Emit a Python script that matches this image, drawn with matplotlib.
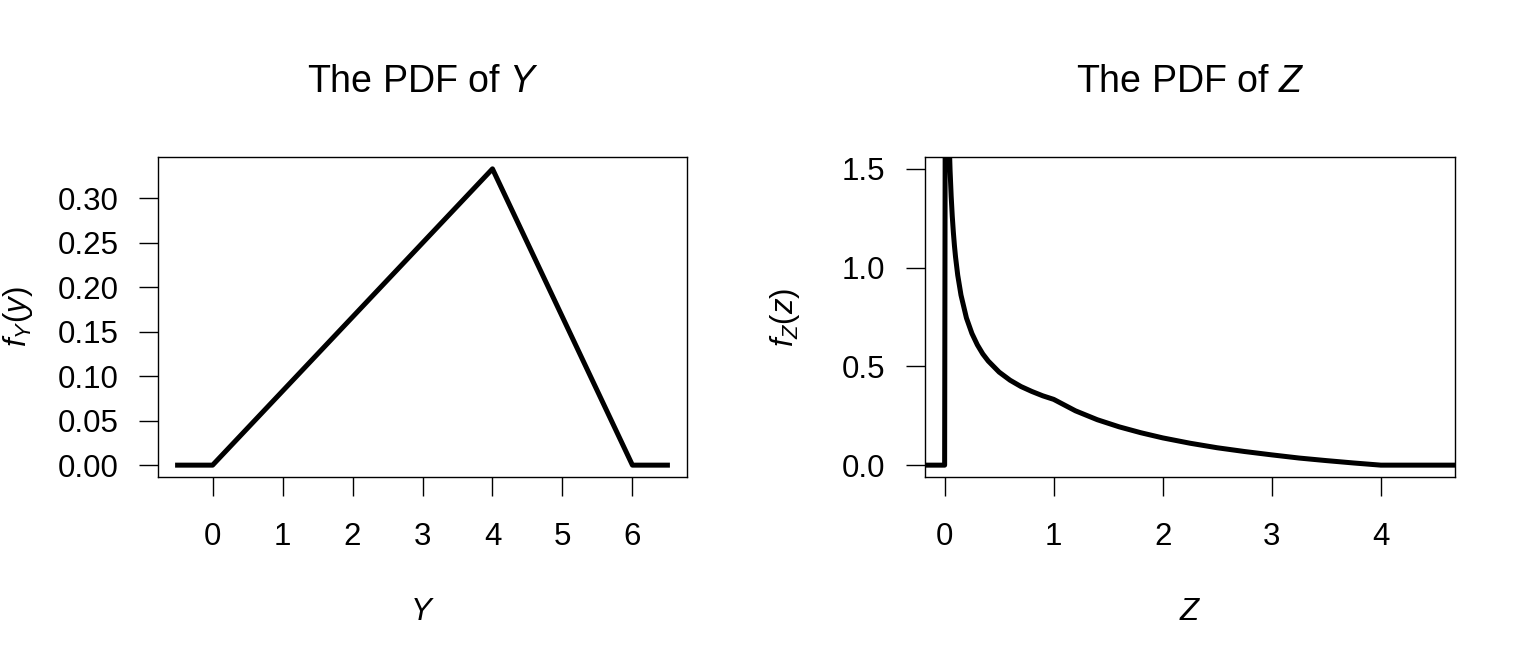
import matplotlib
matplotlib.use("Agg")
import matplotlib.pyplot as plt

plt.rcParams['font.family'] = ['Liberation Sans', 'DejaVu Sans']
plt.rcParams['mathtext.fontset'] = 'custom'
plt.rcParams['mathtext.rm'] = 'Liberation Sans'
plt.rcParams['mathtext.it'] = 'Liberation Sans:italic'

FS = 22.5
TFS = 27
LW = 3.6

# PDF of Y (triangle, piecewise linear)
y_vals = [-0.5, 0, 4, 6, 6.5]
fy_vals = [0, 0, 1/3, 0, 0]
y_ticks = [0, 1, 2, 3, 4, 5, 6]
fy_ticks = [0.00, 0.05, 0.10, 0.15, 0.20, 0.25, 0.30]
fy_ticklabels = ["0.00", "0.05", "0.10", "0.15", "0.20", "0.25", "0.30"]

# PDF of Z
z_vals = [-0.5, 0, 0.01, 0.015, 0.02, 0.025, 0.03, 0.035, 0.04, 0.05, 0.06, 0.07, 0.08, 0.09,
          0.10, 0.12, 0.15, 0.2, 0.25, 0.3, 0.35, 0.4, 0.5, 0.6, 0.7, 0.8, 0.9, 1.0,
          1.2, 1.4, 1.6, 1.8, 2.0, 2.25, 2.5, 2.75, 3.0, 3.25, 3.5, 3.75, 4.0,
          4.5, 5.0]
fz_vals = [0, 0, 3.333, 2.722, 2.357, 2.108, 1.925, 1.782, 1.667, 1.491, 1.361, 1.260, 1.179, 1.111,
           1.054, 0.962, 0.861, 0.745, 0.667, 0.609, 0.563, 0.527, 0.471, 0.430, 0.398, 0.373, 0.351, 0.333,
           0.275, 0.230, 0.194, 0.164, 0.138, 0.111, 0.088, 0.069, 0.052, 0.036, 0.023, 0.011, 0.0,
           0, 0]
z_ticks = [0, 1, 2, 3, 4]
fz_ticks = [0.0, 0.5, 1.0, 1.5]
fz_ticklabels = ["0.0", "0.5", "1.0", "1.5"]

fig = plt.figure(figsize=(15.36, 6.72), dpi=100)
ax1 = fig.add_axes([158/1536, 1 - 477/672, 529/1536, 320/672])
ax2 = fig.add_axes([925/1536, 1 - 477/672, 530/1536, 320/672])

def style(ax, xlim, ylim, xt, yt, ytl, title, xl, yl):
    ax.set_xlim(xlim[0] - 0.04*(xlim[1]-xlim[0]), xlim[1] + 0.04*(xlim[1]-xlim[0]))
    ax.set_ylim(ylim[0] - 0.04*(ylim[1]-ylim[0]), ylim[1] + 0.04*(ylim[1]-ylim[0]))
    ax.set_xticks(xt)
    ax.set_xticklabels([str(t) for t in xt])
    ax.set_yticks(yt)
    ax.set_yticklabels(ytl)
    ax.tick_params(direction='out', length=13.5, width=1, labelsize=FS, pad=15)
    ax.tick_params(axis='x', pad=19)
    for s in ax.spines.values():
        s.set_linewidth(1)
    ax.set_title(title, fontsize=TFS, pad=47)
    ax.set_xlabel(xl, fontsize=FS)
    ax.set_ylabel(yl, fontsize=FS)
    ax.xaxis.set_label_coords(0.5, -0.375)
    ax.yaxis.set_label_coords(-0.232, 0.5)

ax1.plot(y_vals, fy_vals, color='black', lw=LW, solid_joinstyle='round')
style(ax1, (-0.5, 6.5), (0, 1/3), y_ticks, fy_ticks, fy_ticklabels,
      "The PDF of $Y$", "$Y$", "$f_Y(y)$")

ax2.plot(z_vals, fz_vals, color='black', lw=LW, solid_joinstyle='round')
style(ax2, (0, 4.5), (0, 1.5), z_ticks, fz_ticks, fz_ticklabels,
      "The PDF of $Z$", "$Z$", "$f_Z(z)$")

fig.savefig("out.png", dpi=100)
